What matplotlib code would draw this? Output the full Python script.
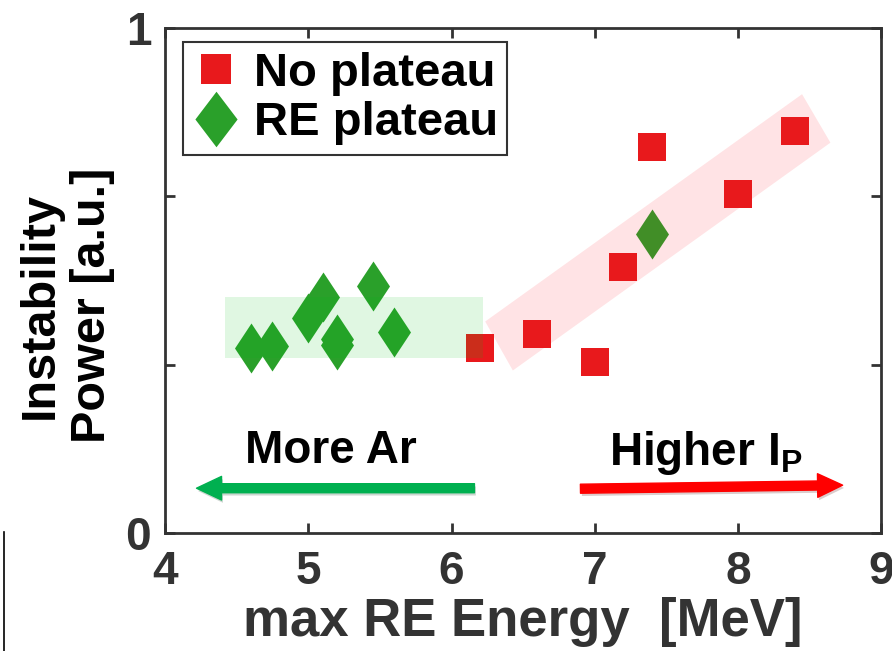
import matplotlib.pyplot as plt
import matplotlib.patheffects as pe
from matplotlib.patches import Polygon, Rectangle, FancyArrowPatch
from matplotlib.lines import Line2D

plt.rcParams['font.family'] = ['Liberation Sans', 'DejaVu Sans']
plt.rcParams['font.weight'] = 'bold'
plt.rcParams['mathtext.fontset'] = 'custom'
plt.rcParams['mathtext.bf'] = 'Liberation Sans:bold'

# max RE energy [MeV] vs instability power [a.u.]
no_plateau_x = [6.2, 6.6, 7.0, 7.2, 7.4, 8.0, 8.4]
no_plateau_y = [0.366, 0.395, 0.339, 0.526, 0.765, 0.671, 0.797]

re_plateau_x = [4.6, 4.75, 5.0, 5.1, 5.2, 5.2, 5.45, 5.6, 7.4]
re_plateau_y = [0.366, 0.371, 0.425, 0.468, 0.384, 0.373, 0.490, 0.398, 0.593]

# shaded trend regions
plateau_band = dict(x0=4.42, x1=6.22, y0=0.347, y1=0.468)
rise_band = [(6.235, 0.419), (6.428, 0.322), (8.645, 0.773), (8.447, 0.869)]

dark = '#333333'
red = '#e8191c'
green = '#2aa02a'

# tall diamond marker
diamond = [(0, -1), (0.66, 0), (0, 1), (-0.66, 0), (0, -1)]
wide_diamond = [(0, -1), (0.76, 0), (0, 1), (-0.76, 0), (0, -1)]

fig = plt.figure(figsize=(8.92, 6.51), dpi=100)
ax = fig.add_axes([0.185, 0.181, 0.803, 0.776])

ax.plot(re_plateau_x, re_plateau_y, linestyle='none', marker=diamond,
        color=green, markersize=36, markeredgewidth=0, zorder=1)
ax.add_patch(Polygon(rise_band, closed=True, facecolor=(1.0, 0.0, 0.08),
                     alpha=0.11, edgecolor='none', zorder=2))
ax.plot(no_plateau_x, no_plateau_y, 's', color=red, markersize=20,
        markeredgewidth=0, zorder=3)
ax.add_patch(Rectangle((plateau_band['x0'], plateau_band['y0']),
                       plateau_band['x1'] - plateau_band['x0'],
                       plateau_band['y1'] - plateau_band['y0'],
                       facecolor=(0.0, 0.75, 0.08), alpha=0.12,
                       edgecolor='none', zorder=4))

# direction arrows
shadow = [pe.SimplePatchShadow(offset=(1, -2), alpha=0.2), pe.Normal()]
for (x0, y0), (x1, y1), col in [((6.16, 0.089), (4.22, 0.089), '#00b050'),
                                 ((6.90, 0.088), (8.73, 0.095), '#ff0000')]:
    arr = FancyArrowPatch((x0, y0), (x1, y1),
                          arrowstyle='simple,head_length=18,head_width=17,tail_width=6.5',
                          mutation_scale=1, shrinkA=0, shrinkB=0,
                          color=col, zorder=5, path_effects=shadow)
    ax.add_patch(arr)

ax.text(4.555, 0.139, 'More Ar', fontsize=33, fontweight='bold', color='black')
ax.text(7.10, 0.135, r'Higher I$_\mathbf{P}$', fontsize=33, fontweight='bold',
        color='black')

ax.set_xlim(4, 9)
ax.set_ylim(0, 1)
ax.set_xticks([4, 5, 6, 7, 8, 9])
ax.set_yticks([0, 1 / 3, 2 / 3, 1])
ax.set_yticklabels(['0', '', '', '1'])
ax.tick_params(direction='in', length=7, width=2, colors=dark, labelsize=33,
               top=True, right=True)
ax.tick_params(axis='x', pad=12)
ax.tick_params(axis='y', pad=10)
for s in ax.spines.values():
    s.set_color(dark)
    s.set_linewidth(2)

ax.set_xlabel('max RE Energy  [MeV]', fontsize=38, fontweight='bold',
              color=dark, labelpad=2)
fig.text(0.074, 0.531, 'Instability\nPower [a.u.]', rotation=90, fontsize=35,
         fontweight='bold', ha='center', va='center', multialignment='center',
         linespacing=1.2)

handles = [Line2D([], [], marker='s', color=red, linestyle='none',
                  markersize=22, markeredgewidth=0),
           Line2D([], [], marker=wide_diamond, color=green, linestyle='none',
                  markersize=40, markeredgewidth=0)]
leg = ax.legend(handles, ['No plateau', 'RE plateau'], loc='upper left',
                bbox_to_anchor=(0.025, 0.972), prop={'size': 34, 'weight': 'bold'},
                fancybox=False, framealpha=1, edgecolor=dark,
                handletextpad=0.3, handlelength=1.0, borderpad=0.2,
                labelspacing=0.12, borderaxespad=0)
leg.get_frame().set_linewidth(1.5)

# thin edge line at the lower left of the canvas
fig.add_artist(Line2D([0.004, 0.004], [0.0, 0.183], color='black',
                      linewidth=1.2, transform=fig.transFigure))

fig.savefig('out.png', dpi=100)
